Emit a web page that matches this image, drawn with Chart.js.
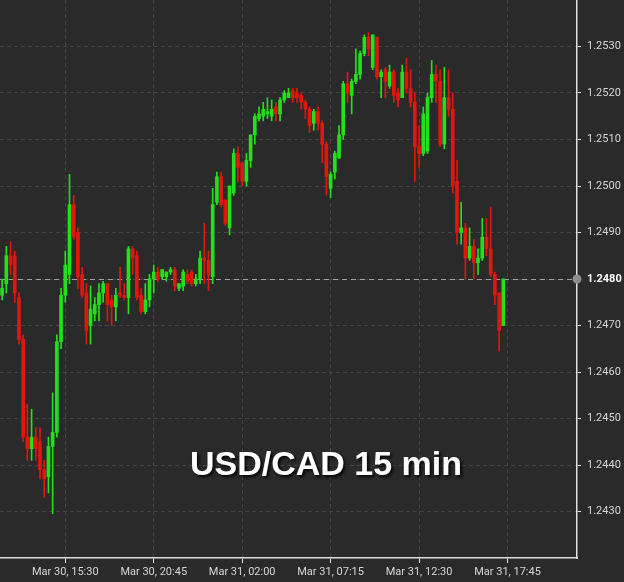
<!DOCTYPE html>
<html><head><meta charset="utf-8">
<script src="https://cdn.jsdelivr.net/npm/chart.js@4.4.1/dist/chart.umd.min.js"></script>
<style>
html,body{margin:0;padding:0;background:#2a2a2a;width:624px;height:582px;overflow:hidden}
#wrap{position:relative;width:624px;height:582px}
canvas{display:block;position:absolute;left:0;top:0}
#title{position:absolute;left:0;width:652px;top:446px;text-align:center;font:bold 34px "Liberation Sans",Arial,sans-serif;line-height:34px;color:#fff;text-shadow:2px 2px 3px rgba(0,0,0,.85);white-space:nowrap}
</style></head><body>
<div id="wrap"><canvas id="c" width="624" height="582"></canvas><div id="title">USD/CAD 15 min</div></div>
<script>
// ---- data ----
const tickLabels = ["Mar 30, 15:30","Mar 30, 20:45","Mar 31, 02:00","Mar 31, 07:15","Mar 31, 12:30","Mar 31, 17:45"];
const slotCount = 137; // 15-min slots from Mar 30 11:45 to Mar 31 21:45
const categories = [];
for (let k = 0; k < slotCount; k++) {
  const t = new Date(Date.UTC(2021, 2, 30, 11, 45) + k * 15 * 60000);
  const hh = String(t.getUTCHours()).padStart(2, '0');
  const mm = String(t.getUTCMinutes()).padStart(2, '0');
  categories.push('Mar ' + t.getUTCDate() + ', ' + hh + ':' + mm);
}
const opens = [1.24765,1.2479,1.2485,1.2485,1.2476,1.2467,1.2446,1.24435,1.2446,1.2445,
1.2439,1.24375,1.2444,1.2447,1.24665,1.24765,1.2481,1.2496,1.2490,1.2481,
1.2477,1.2470,1.24725,1.24745,1.2477,1.2479,1.24755,1.2474,1.2477,1.24765,
1.2476,1.24865,1.2485,1.24765,1.2473,1.24755,1.2480,1.24815,1.24805,1.24805,
1.24815,1.2482,1.2478,1.24785,1.2481,1.24815,1.2479,1.2480,1.24845,1.2484,
1.24805,1.24965,1.2502,1.2497,1.2491,1.24985,1.2507,1.2505,1.2501,1.25055,
1.2511,1.25145,1.2515,1.25155,1.2515,1.2517,1.25155,1.25185,1.2519,1.25205,
1.2520,1.25195,1.2518,1.25165,1.25135,1.2516,1.25135,1.2509,1.24995,1.2503,
1.2506,1.2511,1.2522,1.25195,1.25225,1.2524,1.25285,1.2532,1.25255,1.2532,
1.25235,1.2525,1.25215,1.25245,1.2520,1.2519,1.25245,1.2521,1.2518,1.25085,
1.2507,1.25075,1.2519,1.2524,1.25225,1.2509,1.2519,1.25165,1.2501,1.2490,
1.2491,1.24845,1.2487,1.24835,1.24845,1.2489,1.24865,1.2481,1.2477,1.2470];
const highs = [1.2480,1.2487,1.2488,1.2486,1.2477,1.2468,1.2453,1.2452,1.2448,1.2448,
1.2441,1.2446,1.24555,1.2468,1.2478,1.2486,1.25025,1.2498,1.2491,1.24825,
1.2479,1.24785,1.2476,1.2479,1.24795,1.2479,1.24765,1.2478,1.24825,1.2479,
1.2487,1.2487,1.2486,1.2478,1.2479,1.2481,1.2483,1.24825,1.2482,1.24815,
1.24825,1.24825,1.2479,1.2482,1.2482,1.2482,1.2481,1.2486,1.2492,1.2486,
1.24995,1.2503,1.2503,1.2497,1.2500,1.2508,1.25085,1.2505,1.2507,1.2511,
1.25155,1.2517,1.2518,1.2519,1.25185,1.2518,1.2519,1.25205,1.2521,1.2521,
1.2521,1.2520,1.25185,1.2517,1.25165,1.2517,1.2514,1.25095,1.2503,1.25075,
1.2513,1.25225,1.25245,1.2523,1.25295,1.2529,1.25325,1.2533,1.25325,1.2532,
1.2525,1.25255,1.2526,1.2525,1.2521,1.2526,1.25275,1.2525,1.2520,1.2513,
1.2517,1.2520,1.2527,1.2526,1.2525,1.25255,1.2525,1.2520,1.25055,1.24965,
1.2492,1.2491,1.24885,1.24865,1.2493,1.2493,1.24955,1.24815,1.2477,1.2480];
const lows = [1.24755,1.2477,1.2481,1.2475,1.2466,1.2445,1.2441,1.2441,1.2441,1.2437,
1.2433,1.2434,1.24295,1.2446,1.2465,1.2475,1.2479,1.24885,1.2478,1.2476,
1.2466,1.2466,1.2471,1.2471,1.2475,1.2471,1.2470,1.2471,1.2476,1.24755,
1.24725,1.2481,1.24755,1.24725,1.24725,1.2474,1.2477,1.24795,1.2480,1.24795,
1.2481,1.24775,1.24775,1.24775,1.2479,1.24785,1.24785,1.2479,1.2479,1.24775,
1.2479,1.2496,1.24955,1.24915,1.24895,1.2498,1.2501,1.2500,1.2500,1.2504,
1.2509,1.2514,1.2514,1.25145,1.2514,1.2514,1.2514,1.2518,1.2519,1.2518,
1.2518,1.25165,1.25145,1.25115,1.2512,1.2512,1.2505,1.2498,1.24975,1.25015,
1.2506,1.2510,1.2518,1.25155,1.2522,1.2523,1.2528,1.2528,1.2525,1.2523,
1.2519,1.2519,1.2521,1.2518,1.2517,1.2519,1.2520,1.2517,1.2501,1.2504,
1.25065,1.2507,1.2518,1.2518,1.25085,1.2508,1.2515,1.24985,1.24875,1.24875,
1.2480,1.2484,1.2480,1.2481,1.2484,1.2485,1.24805,1.24745,1.24645,1.2470];
const closes = [1.2478,1.2485,1.2483,1.2477,1.2467,1.2446,1.24435,1.2446,1.24435,1.2439,
1.2437,1.2444,1.2447,1.24665,1.24765,1.2483,1.2496,1.2489,1.24805,1.24765,
1.2469,1.24735,1.24745,1.2477,1.2479,1.24745,1.2474,1.24765,1.24765,1.2476,
1.24865,1.24845,1.2476,1.2473,1.24755,1.2480,1.24815,1.2480,1.2482,1.24815,
1.2482,1.24785,1.2479,1.24815,1.24795,1.2479,1.2480,1.24845,1.2484,1.2481,
1.2496,1.2502,1.2496,1.2492,1.2500,1.2507,1.2504,1.2501,1.25055,1.2511,
1.2515,1.25155,1.25165,1.2516,1.25165,1.25155,1.25185,1.2520,1.2520,1.2519,
1.2519,1.2518,1.25165,1.2513,1.2516,1.25135,1.2509,1.2502,1.25025,1.2507,
1.2511,1.2522,1.2520,1.25225,1.2524,1.25285,1.2532,1.25295,1.25325,1.25235,
1.25245,1.25225,1.25245,1.25195,1.25185,1.25245,1.2521,1.2518,1.25085,1.2507,
1.25155,1.2519,1.2524,1.25225,1.2509,1.2519,1.25165,1.2500,1.2490,1.2491,
1.24845,1.2487,1.24835,1.24845,1.2489,1.24865,1.2481,1.24765,1.2469,1.2480];
const yMin = 1.2420, yMax = 1.2540, yStep = 0.0010;

// ---- styles ----
const UP = '#22e11c', DOWN = '#e3150f';
const GRID = '#434343', AXIS = '#e0e0e0', LABEL = '#d6d6d6';
const FONT = 'Roboto, "Noto Sans", sans-serif';
const lastPrice = closes[closes.length - 1];
const candleColors = closes.map((c, i) => c >= opens[i] ? UP : DOWN);
const isLast = c => !!(c && c.tick && Math.abs(c.tick.value - lastPrice) < 1e-7);
const hasLabel = c => !!(c && c.tick && c.tick.label);

const priceLine = {
  id: 'priceLine',
  beforeDatasetsDraw(chart) {
    const {ctx, chartArea, scales: {y}} = chart;
    const py = Math.round(y.getPixelForValue(lastPrice)) + 0.5;
    ctx.save();
    ctx.setLineDash([5, 4]);
    ctx.strokeStyle = '#a0a0a0';
    ctx.lineWidth = 1;
    ctx.beginPath();
    ctx.moveTo(chartArea.left, py);
    ctx.lineTo(chartArea.right, py);
    ctx.stroke();
    ctx.restore();
  },
  afterDraw(chart) {
    const {ctx, chartArea, scales: {y}} = chart;
    const py = y.getPixelForValue(lastPrice);
    ctx.save();
    ctx.fillStyle = '#8c8c8c';
    ctx.beginPath();
    ctx.arc(chartArea.right, py, 4.5, 0, Math.PI * 2);
    ctx.fill();
    ctx.restore();
  }
};

new Chart(document.getElementById('c'), {
  type: 'bar',
  data: {
    labels: categories,
    datasets: [
      {
        label: 'wick',
        data: lows.map((l, i) => [l, highs[i]]),
        backgroundColor: candleColors,
        barThickness: 1,
        grouped: false,
        order: 2,
        borderWidth: 0
      },
      {
        label: 'body',
        data: opens.map((o, i) => [o, closes[i]]),
        backgroundColor: candleColors,
        barThickness: 3,
        minBarLength: 1,
        grouped: false,
        order: 1,
        borderWidth: 0
      }
    ]
  },
  options: {
    responsive: false,
    animation: false,
    devicePixelRatio: 1,
    layout: {padding: 0},
    plugins: {legend: {display: false}, tooltip: {enabled: false}, title: {display: false}},
    scales: {
      x: {
        type: 'category',
        offset: true,
        grid: {
          offset: false,
          color: c => hasLabel(c) ? GRID : 'rgba(0,0,0,0)',
          tickColor: c => hasLabel(c) ? AXIS : 'rgba(0,0,0,0)',
          tickLength: 5,
          tickBorderDash: [],
          drawTicks: true,
          lineWidth: 1
        },
        border: {display: true, color: AXIS, width: 1.5, dash: [4, 3]},
        ticks: {
          autoSkip: false,
          maxRotation: 0,
          minRotation: 0,
          color: LABEL,
          padding: 3,
          font: {family: FONT, size: 11},
          callback: (v, i) => tickLabels.includes(categories[i]) ? categories[i] : null
        },
        afterFit: s => { s.height = 24; s.paddingLeft = 0; s.paddingRight = 0; }
      },
      y: {
        position: 'right',
        min: yMin,
        max: yMax,
        grid: {
          color: GRID,
          tickColor: AXIS,
          tickLength: 4,
          tickBorderDash: [],
          drawTicks: true,
          lineWidth: 1
        },
        border: {display: true, color: AXIS, width: 1.5, dash: [4, 3]},
        ticks: {
          stepSize: yStep,
          padding: 6,
          color: c => isLast(c) ? '#ffffff' : LABEL,
          font: c => ({family: FONT, size: 11, weight: isLast(c) ? 'bold' : 'normal'}),
          callback: v => (Math.abs(v - yMin) < 1e-7 || Math.abs(v - yMax) < 1e-7) ? null : v.toFixed(4)
        },
        afterFit: s => { s.width = 47; s.paddingTop = 0; s.paddingBottom = 0; }
      }
    }
  },
  plugins: [priceLine]
});
</script>
</body></html>
